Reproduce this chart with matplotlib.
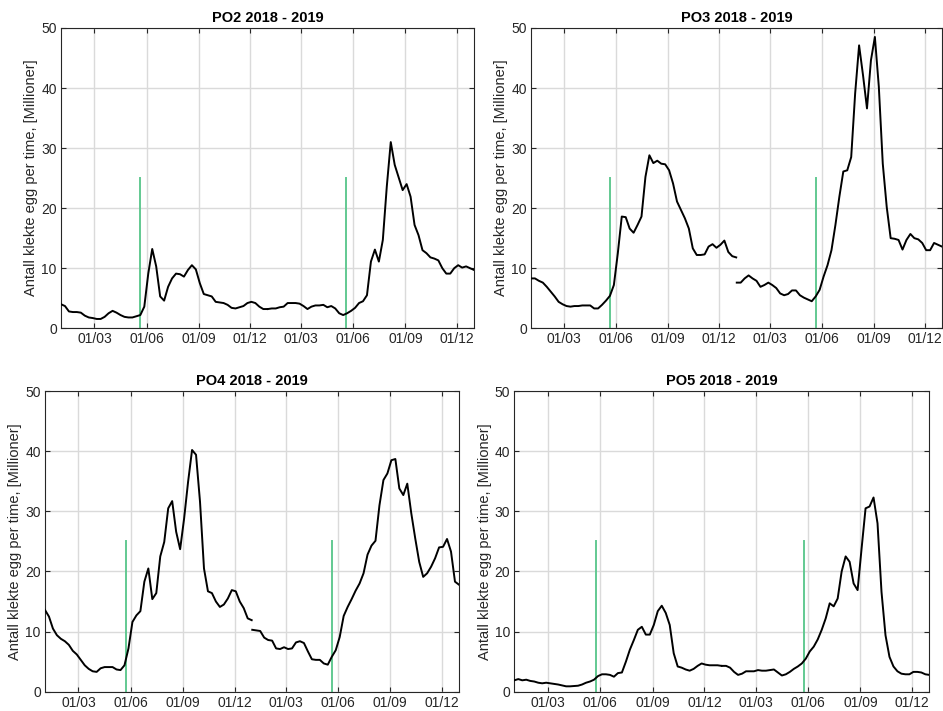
import matplotlib
matplotlib.use('Agg')
import matplotlib.pyplot as plt
import matplotlib.dates as mdates
import numpy as np
import pandas as pd

plt.rcParams['font.family'] = ['Liberation Sans', 'DejaVu Sans']

# weekly values, each year plotted as its own line
dates_2018 = pd.date_range('2018-01-01', periods=53, freq='7D')
dates_2019 = pd.date_range('2019-01-01', periods=53, freq='7D')

po2_2018 = [4.0, 3.7, 2.8, 2.7, 2.7, 2.6, 2.1, 1.8, 1.7, 1.55,
            1.55, 1.9, 2.5, 2.9, 2.6, 2.2, 1.9, 1.8, 1.8, 2.0,
            2.2, 3.6, 9.1, 13.2, 10.3, 5.3, 4.6, 6.9, 8.3, 9.1,
            9.0, 8.6, 9.7, 10.5, 9.8, 7.5, 5.7, 5.5, 5.3, 4.4,
            4.3, 4.2, 3.9, 3.4, 3.3, 3.5, 3.7, 4.2, 4.4, 4.2,
            3.6, 3.2, 3.2]
po2_2019 = [3.2, 3.3, 3.3, 3.5, 3.6, 4.2, 4.2, 4.2, 4.1, 3.7,
            3.2, 3.6, 3.8, 3.8, 3.9, 3.5, 3.7, 3.3, 2.5, 2.2,
            2.5, 2.9, 3.4, 4.2, 4.5, 5.5, 11.1, 13.1, 11.1, 14.7,
            23.6, 31.0, 27.2, 25.1, 23.0, 24.0, 21.9, 17.2, 15.5, 13.0,
            12.5, 11.8, 11.6, 11.3, 10.0, 9.1, 9.1, 10.0, 10.5, 10.1,
            10.3, 10.0, 9.7]

po3_2018 = [8.3, 8.3, 7.9, 7.6, 6.9, 6.1, 5.3, 4.4, 4.0, 3.7,
            3.6, 3.7, 3.7, 3.8, 3.8, 3.8, 3.3, 3.3, 3.9, 4.6,
            5.4, 7.2, 12.5, 18.6, 18.5, 16.6, 15.9, 17.2, 18.6, 25.2,
            28.8, 27.5, 27.9, 27.4, 27.3, 26.3, 24.1, 21.1, 19.7, 18.3,
            16.6, 13.3, 12.2, 12.2, 12.3, 13.6, 14.0, 13.4, 13.9, 14.6,
            12.7, 12.0, 11.8]
po3_2019 = [7.6, 7.6, 8.3, 8.8, 8.3, 7.9, 6.9, 7.2, 7.6, 7.2,
            6.7, 5.8, 5.5, 5.7, 6.3, 6.3, 5.5, 5.1, 4.8, 4.5,
            5.3, 6.4, 8.6, 10.5, 13.0, 17.2, 21.9, 26.1, 26.3, 28.5,
            39.1, 47.1, 42.1, 36.6, 44.6, 48.5, 40.2, 27.4, 20.2, 15.0,
            14.9, 14.7, 13.1, 14.7, 15.7, 15.0, 14.8, 14.2, 13.0, 13.0,
            14.2, 13.9, 13.6]

po4_2018 = [13.6, 12.5, 10.5, 9.4, 8.8, 8.4, 7.8, 6.8, 6.2, 5.3,
            4.4, 3.8, 3.4, 3.3, 3.9, 4.1, 4.1, 4.1, 3.7, 3.6,
            4.4, 7.2, 11.6, 12.7, 13.4, 18.3, 20.5, 15.4, 16.4, 22.5,
            24.9, 30.5, 31.7, 26.6, 23.7, 28.8, 34.9, 40.2, 39.4, 31.6,
            20.5, 16.7, 16.4, 15.0, 14.1, 14.5, 15.5, 16.9, 16.7, 15.0,
            13.9, 12.2, 11.9]
po4_2019 = [10.3, 10.2, 10.1, 9.0, 8.6, 8.5, 7.2, 7.1, 7.4, 7.1,
            7.2, 8.2, 8.4, 8.1, 6.7, 5.4, 5.3, 5.3, 4.7, 4.5,
            5.8, 6.9, 9.1, 12.6, 14.1, 15.4, 16.8, 18.0, 19.7, 22.8,
            24.3, 25.1, 31.0, 35.2, 36.3, 38.5, 38.7, 33.8, 32.7, 34.6,
            29.7, 25.5, 21.6, 19.1, 19.7, 20.8, 22.2, 24.0, 24.1, 25.4,
            23.3, 18.3, 17.8]

po5_2018 = [1.9, 2.1, 1.9, 2.0, 1.8, 1.7, 1.5, 1.4, 1.5, 1.4,
            1.3, 1.2, 1.05, 0.9, 0.9, 0.95, 1.0, 1.2, 1.5, 1.7,
            2.0, 2.6, 2.9, 2.9, 2.8, 2.5, 3.1, 3.2, 5.0, 7.0,
            8.6, 10.3, 10.8, 9.5, 9.5, 11.1, 13.4, 14.3, 13.1, 11.1,
            6.4, 4.2, 4.0, 3.7, 3.5, 3.8, 4.3, 4.7, 4.5, 4.4,
            4.4, 4.4, 4.3]
po5_2019 = [4.3, 4.3, 4.0, 3.3, 2.8, 3.0, 3.4, 3.4, 3.4, 3.6,
            3.5, 3.5, 3.6, 3.7, 3.2, 2.7, 2.9, 3.3, 3.8, 4.2,
            4.7, 5.5, 6.7, 7.5, 8.7, 10.3, 12.2, 14.7, 14.2, 15.5,
            20.0, 22.5, 21.6, 18.0, 16.9, 23.8, 30.5, 30.8, 32.3, 28.0,
            16.6, 9.4, 5.8, 4.2, 3.4, 3.0, 2.9, 2.9, 3.3, 3.3,
            3.2, 2.9, 2.8]

titles = ['PO2 2018 - 2019', 'PO3 2018 - 2019', 'PO4 2018 - 2019', 'PO5 2018 - 2019']
series = [(po2_2018, po2_2019), (po3_2018, po3_2019),
          (po4_2018, po4_2019), (po5_2018, po5_2019)]
# green markers (start of production period)
marks = [('2018-05-20', '2019-05-19'), ('2018-05-22', '2019-05-21'),
         ('2018-05-23', '2019-05-22'), ('2018-05-24', '2019-05-24')]

fig = plt.figure(figsize=(9.43, 7.11), dpi=100)
positions = [[0.0647, 0.5383, 0.438, 0.4224],
             [0.5631, 0.5383, 0.4358, 0.4224],
             [0.0477, 0.0271, 0.439, 0.4229],
             [0.5454, 0.0271, 0.4401, 0.4229]]

dark = '#262626'
for pos, title, (y18, y19), (m18, m19) in zip(positions, titles, series, marks):
    ax = fig.add_axes(pos)
    ax.plot(dates_2018, y18, color='black', lw=1.4, zorder=3)
    ax.plot(dates_2019, y19, color='black', lw=1.4, zorder=3)
    for m in (m18, m19):
        d = pd.Timestamp(m)
        ax.plot([d, d], [0, 25], color='#62c992', lw=1.4, zorder=2)
    ax.set_xlim(pd.Timestamp('2018-01-01'), pd.Timestamp('2019-12-31'))
    ax.set_ylim(0, 50)
    ax.set_yticks([0, 10, 20, 30, 40, 50])
    ax.xaxis.set_major_locator(mdates.MonthLocator(bymonth=[3, 6, 9, 12], bymonthday=1))
    ax.xaxis.set_major_formatter(mdates.DateFormatter('%d/%m'))
    ax.grid(True, color='#dadada', lw=1.0, zorder=0)
    ax.set_axisbelow(True)
    ax.tick_params(direction='in', length=3.5, width=0.8, top=True, right=True,
                   labelsize=10, colors=dark, pad=3)
    for s in ax.spines.values():
        s.set_color(dark)
        s.set_linewidth(0.8)
    ax.set_title(title, fontsize=10.5, fontweight='bold', color='black', pad=4)
    ax.set_ylabel('Antall klekte egg per time, [Millioner]', fontsize=10.5, color=dark, labelpad=2)

fig.savefig('out.png', dpi=100)
